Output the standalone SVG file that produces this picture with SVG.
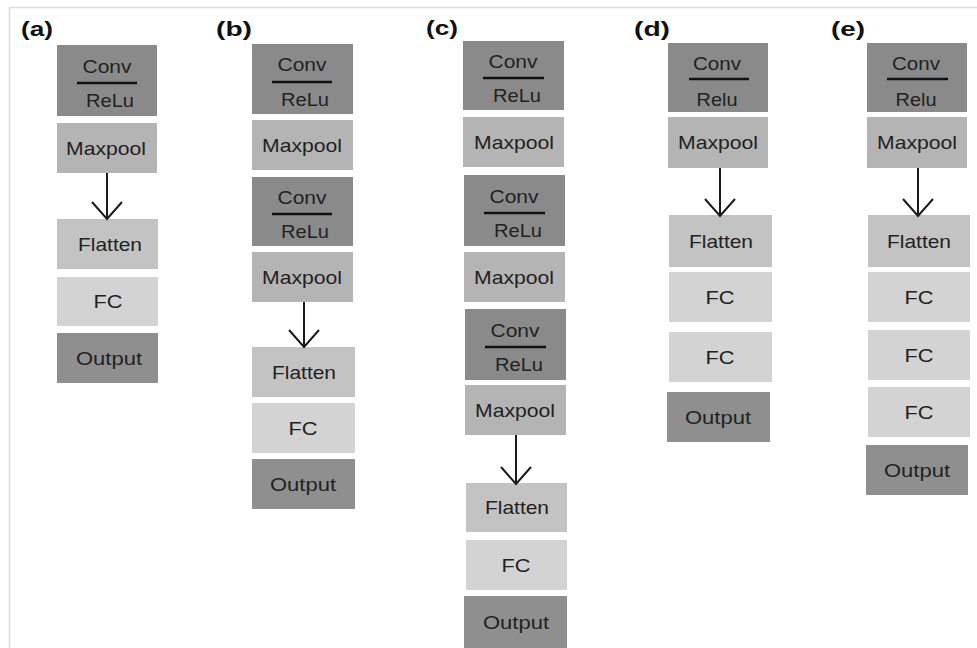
<svg xmlns="http://www.w3.org/2000/svg" width="977" height="648" viewBox="0 0 977 648">
<style>
  .bg { fill: #ffffff; }
  .frame { stroke: #dcdcdc; stroke-width: 1.5; fill: none; }
  .conv { fill: #8a8a8a; }
  .mp { fill: #b4b4b4; }
  .fl { fill: #c3c3c3; }
  .fc { fill: #d3d3d3; }
  .out { fill: #8f8f8f; }
  text { font-family: "Liberation Sans", Arial, sans-serif; font-size: 18.5px; fill: #222222; text-anchor: middle; }
  .lbl { font-size: 19.5px; font-weight: bold; text-anchor: start; fill: #111111; }
  .bar { stroke: #111111; stroke-width: 2.6; }
  .arrow { stroke: #1a1a1a; stroke-width: 2; fill: none; }
</style>
<defs>
  <marker id="vhead" markerUnits="userSpaceOnUse" viewBox="-20 -18 22 36" refX="0" refY="0" markerWidth="22" markerHeight="36" orient="auto" overflow="visible">
    <path d="M-17,-15 L0,0 L-17,15" fill="none" stroke="#1a1a1a" stroke-width="2"/>
  </marker>
</defs>
<rect class="bg" x="0" y="0" width="977" height="648"/>
<path class="frame" d="M9.5,648 L9.5,7.5 L977,7.5"/>

<g id="labels">
  <text class="lbl" x="21" y="36" textLength="32" lengthAdjust="spacingAndGlyphs">(a)</text>
  <text class="lbl" x="216" y="36" textLength="36" lengthAdjust="spacingAndGlyphs">(b)</text>
  <text class="lbl" x="426" y="35" textLength="32" lengthAdjust="spacingAndGlyphs">(c)</text>
  <text class="lbl" x="634" y="36" textLength="36" lengthAdjust="spacingAndGlyphs">(d)</text>
  <text class="lbl" x="831" y="36" textLength="34" lengthAdjust="spacingAndGlyphs">(e)</text>
</g>

<!-- Panel (a) -->
<g id="a-conv"><rect class="conv" x="57" y="45" width="100" height="71"/><text x="107" y="73" textLength="49" lengthAdjust="spacingAndGlyphs">Conv</text><line class="bar" x1="77" y1="83" x2="137" y2="83"/><text x="110" y="107" textLength="48" lengthAdjust="spacingAndGlyphs">ReLu</text></g>
<g id="a-maxpool"><rect class="mp" x="57" y="123" width="100" height="50"/><text x="106" y="155" textLength="80" lengthAdjust="spacingAndGlyphs">Maxpool</text></g>
<g id="a-flatten"><rect class="fl" x="57" y="219" width="101" height="50"/><text x="110" y="251" textLength="64" lengthAdjust="spacingAndGlyphs">Flatten</text></g>
<g id="a-fc"><rect class="fc" x="57" y="277" width="101" height="49"/><text x="108" y="308" textLength="29" lengthAdjust="spacingAndGlyphs">FC</text></g>
<g id="a-output"><rect class="out" x="57" y="333" width="101" height="50"/><text x="109" y="365" textLength="66" lengthAdjust="spacingAndGlyphs">Output</text></g>

<!-- Panel (b) -->
<g id="b-conv1"><rect class="conv" x="252" y="44" width="101" height="70"/><text x="302" y="71" textLength="49" lengthAdjust="spacingAndGlyphs">Conv</text><line class="bar" x1="272" y1="82" x2="332" y2="82"/><text x="305" y="106" textLength="48" lengthAdjust="spacingAndGlyphs">ReLu</text></g>
<g id="b-maxpool1"><rect class="mp" x="252" y="120" width="101" height="50"/><text x="302" y="152" textLength="80" lengthAdjust="spacingAndGlyphs">Maxpool</text></g>
<g id="b-conv2"><rect class="conv" x="252" y="177" width="101" height="69"/><text x="302" y="204" textLength="49" lengthAdjust="spacingAndGlyphs">Conv</text><line class="bar" x1="272" y1="214" x2="332" y2="214"/><text x="305" y="238" textLength="48" lengthAdjust="spacingAndGlyphs">ReLu</text></g>
<g id="b-maxpool2"><rect class="mp" x="252" y="252" width="101" height="50"/><text x="302" y="284" textLength="80" lengthAdjust="spacingAndGlyphs">Maxpool</text></g>
<g id="b-flatten"><rect class="fl" x="252" y="347" width="103" height="50"/><text x="304" y="379" textLength="64" lengthAdjust="spacingAndGlyphs">Flatten</text></g>
<g id="b-fc"><rect class="fc" x="252" y="403" width="103" height="50"/><text x="303" y="435" textLength="29" lengthAdjust="spacingAndGlyphs">FC</text></g>
<g id="b-output"><rect class="out" x="252" y="459" width="103" height="50"/><text x="303" y="491" textLength="66" lengthAdjust="spacingAndGlyphs">Output</text></g>

<!-- Panel (c) -->
<g id="c-conv1"><rect class="conv" x="463" y="41" width="101" height="69"/><text x="513" y="68" textLength="49" lengthAdjust="spacingAndGlyphs">Conv</text><line class="bar" x1="483" y1="78" x2="544" y2="78"/><text x="517" y="102" textLength="48" lengthAdjust="spacingAndGlyphs">ReLu</text></g>
<g id="c-maxpool1"><rect class="mp" x="463" y="117" width="101" height="50"/><text x="514" y="149" textLength="80" lengthAdjust="spacingAndGlyphs">Maxpool</text></g>
<g id="c-conv2"><rect class="conv" x="464" y="175" width="101" height="71"/><text x="514" y="203" textLength="49" lengthAdjust="spacingAndGlyphs">Conv</text><line class="bar" x1="484" y1="213" x2="545" y2="213"/><text x="518" y="237" textLength="48" lengthAdjust="spacingAndGlyphs">ReLu</text></g>
<g id="c-maxpool2"><rect class="mp" x="464" y="252" width="101" height="50"/><text x="514" y="284" textLength="80" lengthAdjust="spacingAndGlyphs">Maxpool</text></g>
<g id="c-conv3"><rect class="conv" x="465" y="309" width="101" height="71"/><text x="515" y="337" textLength="49" lengthAdjust="spacingAndGlyphs">Conv</text><line class="bar" x1="485" y1="347" x2="546" y2="347"/><text x="519" y="371" textLength="48" lengthAdjust="spacingAndGlyphs">ReLu</text></g>
<g id="c-maxpool3"><rect class="mp" x="465" y="385" width="101" height="50"/><text x="515" y="417" textLength="80" lengthAdjust="spacingAndGlyphs">Maxpool</text></g>
<g id="c-flatten"><rect class="fl" x="466" y="483" width="101" height="49"/><text x="517" y="514" textLength="64" lengthAdjust="spacingAndGlyphs">Flatten</text></g>
<g id="c-fc"><rect class="fc" x="466" y="540" width="101" height="50"/><text x="516" y="572" textLength="29" lengthAdjust="spacingAndGlyphs">FC</text></g>
<g id="c-output"><rect class="out" x="464" y="596" width="103" height="52"/><text x="516" y="629" textLength="66" lengthAdjust="spacingAndGlyphs">Output</text></g>

<!-- Panel (d) -->
<g id="d-conv"><rect class="conv" x="668" y="43" width="100" height="69"/><text x="717" y="70" textLength="48" lengthAdjust="spacingAndGlyphs">Conv</text><line class="bar" x1="689" y1="79" x2="749" y2="79"/><text x="717" y="106" textLength="41" lengthAdjust="spacingAndGlyphs">Relu</text></g>
<g id="d-maxpool"><rect class="mp" x="668" y="117" width="100" height="51"/><text x="718" y="149" textLength="80" lengthAdjust="spacingAndGlyphs">Maxpool</text></g>
<g id="d-flatten"><rect class="fl" x="669" y="215" width="103" height="52"/><text x="721" y="248" textLength="64" lengthAdjust="spacingAndGlyphs">Flatten</text></g>
<g id="d-fc1"><rect class="fc" x="669" y="272" width="103" height="50"/><text x="720" y="304" textLength="29" lengthAdjust="spacingAndGlyphs">FC</text></g>
<g id="d-fc2"><rect class="fc" x="669" y="332" width="103" height="50"/><text x="720" y="364" textLength="29" lengthAdjust="spacingAndGlyphs">FC</text></g>
<g id="d-output"><rect class="out" x="667" y="392" width="103" height="50"/><text x="718" y="424" textLength="66" lengthAdjust="spacingAndGlyphs">Output</text></g>

<!-- Panel (e) -->
<g id="e-conv"><rect class="conv" x="867" y="43" width="100" height="69"/><text x="916" y="70" textLength="48" lengthAdjust="spacingAndGlyphs">Conv</text><line class="bar" x1="887" y1="79" x2="948" y2="79"/><text x="916" y="106" textLength="41" lengthAdjust="spacingAndGlyphs">Relu</text></g>
<g id="e-maxpool"><rect class="mp" x="867" y="117" width="100" height="51"/><text x="917" y="149" textLength="80" lengthAdjust="spacingAndGlyphs">Maxpool</text></g>
<g id="e-flatten"><rect class="fl" x="868" y="215" width="102" height="52"/><text x="919" y="248" textLength="64" lengthAdjust="spacingAndGlyphs">Flatten</text></g>
<g id="e-fc1"><rect class="fc" x="868" y="272" width="102" height="50"/><text x="919" y="304" textLength="29" lengthAdjust="spacingAndGlyphs">FC</text></g>
<g id="e-fc2"><rect class="fc" x="868" y="330" width="102" height="50"/><text x="919" y="362" textLength="29" lengthAdjust="spacingAndGlyphs">FC</text></g>
<g id="e-fc3"><rect class="fc" x="868" y="387" width="102" height="50"/><text x="919" y="419" textLength="29" lengthAdjust="spacingAndGlyphs">FC</text></g>
<g id="e-output"><rect class="out" x="866" y="445" width="102" height="50"/><text x="917" y="477" textLength="66" lengthAdjust="spacingAndGlyphs">Output</text></g>

<g id="connectors">
  <line class="arrow" x1="107" y1="173" x2="107" y2="219" marker-end="url(#vhead)"/>
  <line class="arrow" x1="304" y1="302" x2="304" y2="347" marker-end="url(#vhead)"/>
  <line class="arrow" x1="516" y1="435" x2="516" y2="484" marker-end="url(#vhead)"/>
  <line class="arrow" x1="720" y1="168" x2="720" y2="216" marker-end="url(#vhead)"/>
  <line class="arrow" x1="918" y1="168" x2="918" y2="216" marker-end="url(#vhead)"/>
</g>
</svg>
